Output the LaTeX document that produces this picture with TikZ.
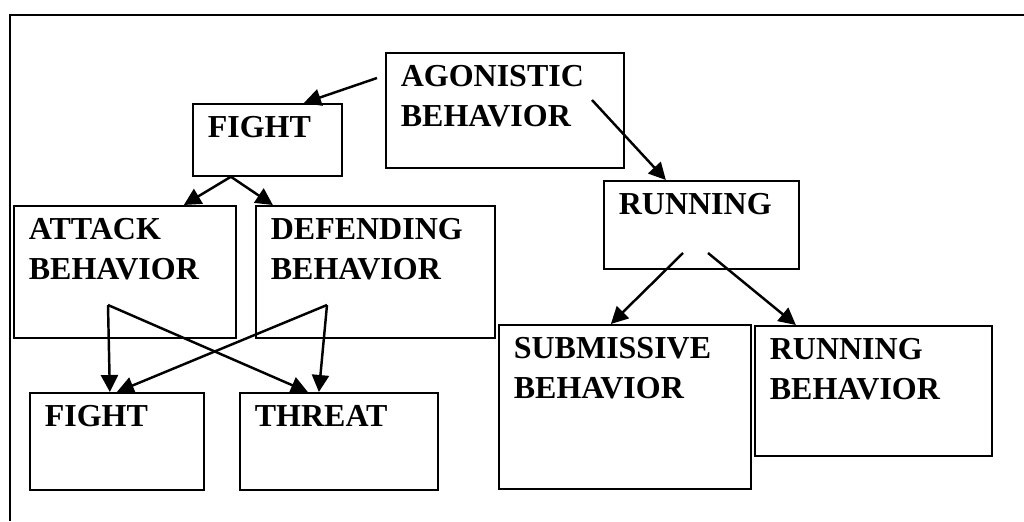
\documentclass[tikz,border=0pt]{standalone}
\usepackage{fontspec}
\setmainfont{Liberation Serif}
\usetikzlibrary{arrows.meta}

\tikzset{
	box/.style 2 args={draw, line width=1pt, anchor=north west, align=left,
		inner xsep=0.3cm, inner ysep=0pt, text width=#1, text height=0.68cm, text depth=#2,
		font=\fontsize{18.2}{22.8}\selectfont\bfseries},
	arr/.style={-{Triangle[length=0.34cm,width=0.34cm]}, line width=1.4pt}
}

\begin{document}
\begin{tikzpicture}[x=0.02cm,y=-0.02cm]
		\useasboundingbox (0,0) rectangle (1024,521);
		\draw[line width=1pt] (10,521) -- (10,15) -- (1024,15);
		
		\node(agon) at (385,52)[box={4.16cm}{1.62cm}]{AGONISTIC\\BEHAVIOR};
		\node(fightA) at (192,103)[box={2.38cm}{0.76cm}]{FIGHT};
		\node(attack) at (13,205)[box={3.84cm}{1.96cm}]{ATTACK\\BEHAVIOR};
		\node(defend) at (255,205)[box={4.18cm}{1.96cm}]{DEFENDING\\BEHAVIOR};
		\node(running) at (603,180)[box={3.30cm}{1.08cm}]{RUNNING};
		\node(submis) at (498,324)[box={4.44cm}{2.60cm}]{SUBMISSIVE\\BEHAVIOR};
		\node(runbeh) at (754,325)[box={4.14cm}{1.92cm}]{RUNNING\\BEHAVIOR};
		\node(fightB) at (29,392)[box={2.88cm}{1.26cm}]{FIGHT};
		\node(threat) at (239,392)[box={3.36cm}{1.26cm}]{THREAT};
		
		\coordinate (agonL) at (377,78);
		\coordinate (agonR) at (592,100);
		\coordinate (attackV) at (108,305);
		\coordinate (defendV) at (327,305);
		\coordinate (runL) at (683,253);
		\coordinate (runR) at (708,253);
		
		\draw[arr] (agonL) -- ([xshift=0.73cm]fightA.north);
		\draw[arr] (agonR) -- ([xshift=-0.71cm]running.north);
		\draw[arr] ([xshift=-0.73cm]fightA.south) -- ([xshift=1.18cm]attack.north);
		\draw[arr] ([xshift=-0.73cm]fightA.south) -- ([xshift=-2.05cm]defend.north);
		\draw[arr] (attackV) -- ([xshift=-0.14cm]fightB.north);
		\draw[arr] (attackV) -- ([xshift=-0.62cm]threat.north);
		\draw[arr] (defendV) -- (fightB.north);
		\draw[arr] (defendV) -- ([xshift=-0.4cm]threat.north);
		\draw[arr] (runL) -- ([xshift=-0.28cm]submis.north);
		\draw[arr] (runR) -- ([xshift=-1.55cm]runbeh.north);
		
	\end{tikzpicture}
\end{document}
